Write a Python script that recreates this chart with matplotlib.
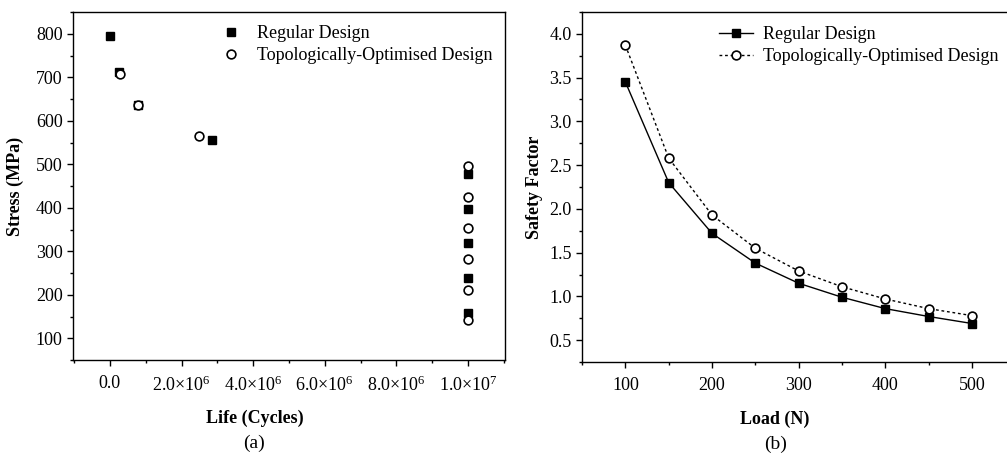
import matplotlib
matplotlib.use("Agg")
import matplotlib.pyplot as plt
from matplotlib.ticker import MultipleLocator

plt.rcParams['font.family'] = ['Liberation Serif', 'DejaVu Serif']
plt.rcParams['mathtext.fontset'] = 'custom'
plt.rcParams['mathtext.rm'] = 'Liberation Serif'
plt.rcParams['mathtext.it'] = 'Liberation Serif:italic'
plt.rcParams['mathtext.bf'] = 'Liberation Serif:bold'

# ---- panel (a): S-N data ----
reg_life = [0.0, 0.25e6, 0.78e6, 2.85e6, 1e7, 1e7, 1e7, 1e7, 1e7]
reg_stress = [795, 713, 636, 556, 478, 397, 318, 238, 158]
topo_life = [0.28e6, 0.78e6, 2.5e6, 1e7, 1e7, 1e7, 1e7, 1e7, 1e7]
topo_stress = [708, 637, 566, 495, 424, 354, 283, 212, 142]

life_ticks = [0, 2e6, 4e6, 6e6, 8e6, 1e7]
life_labels = ['0.0', '2.0×10$^{6}$', '4.0×10$^{6}$', '6.0×10$^{6}$',
               '8.0×10$^{6}$', '1.0×10$^{7}$']
stress_ticks = [100, 200, 300, 400, 500, 600, 700, 800]

# ---- panel (b): safety factor vs load ----
load = [100, 150, 200, 250, 300, 350, 400, 450, 500]
sf_regular = [3.45, 2.30, 1.72, 1.38, 1.15, 0.99, 0.86, 0.77, 0.69]
sf_topo = [3.87, 2.58, 1.93, 1.55, 1.29, 1.11, 0.97, 0.86, 0.78]

fig = plt.figure(figsize=(10.07, 4.59), dpi=100)
ax1 = fig.add_axes([0.0725, 0.2157, 0.429, 0.758])
ax2 = fig.add_axes([0.578, 0.2113, 0.426, 0.7626])

fs = 13

# (a)
ax1.plot(reg_life, reg_stress, 's', color='black', markersize=5.8, linestyle='none',
         label='Regular Design')
ax1.plot(topo_life, topo_stress, 'o', markerfacecolor='white', markeredgecolor='black',
         markeredgewidth=1.2, markersize=6.3, linestyle='none',
         label='Topologically-Optimised Design')
ax1.set_xlim(-1.03e6, 1.103e7)
ax1.set_ylim(50, 850)
ax1.set_xticks(life_ticks)
ax1.set_xticklabels(life_labels)
ax1.set_yticks(stress_ticks)
ax1.xaxis.set_minor_locator(MultipleLocator(1e6))
ax1.yaxis.set_minor_locator(MultipleLocator(50))
ax1.set_xlabel('Life (Cycles)', fontweight='bold', fontsize=fs)
ax1.set_ylabel('Stress (MPa)', fontweight='bold', fontsize=fs)
ax1.xaxis.set_label_coords(0.42, -0.143)
ax1.yaxis.set_label_coords(-0.114, 0.5)
ax1.legend(loc='upper left', bbox_to_anchor=(0.345, 0.963), frameon=False, fontsize=fs,
           handlelength=1.0, handletextpad=0.95, borderaxespad=0, borderpad=0,
           labelspacing=0.28)
ax1.text(0.42, -0.24, '(a)', transform=ax1.transAxes, ha='center', va='center',
         fontsize=fs + 1)

# (b)
ax2.plot(load, sf_regular, '-s', color='black', markersize=5.8, linewidth=1.0,
         label='Regular Design')
ax2.plot(load, sf_topo, linestyle=(0, (2, 2)), marker='o', color='black',
         markerfacecolor='white', markersize=6.3, markeredgewidth=1.2, linewidth=1.0,
         label='Topologically-Optimised Design')
ax2.set_xlim(50, 545)
ax2.set_ylim(0.25, 4.25)
ax2.set_xticks([100, 200, 300, 400, 500])
ax2.set_yticks([0.5, 1.0, 1.5, 2.0, 2.5, 3.0, 3.5, 4.0])
ax2.xaxis.set_minor_locator(MultipleLocator(50))
ax2.yaxis.set_minor_locator(MultipleLocator(0.25))
ax2.set_xlabel('Load (N)', fontweight='bold', fontsize=fs)
ax2.set_ylabel('Safety Factor', fontweight='bold', fontsize=fs)
ax2.xaxis.set_label_coords(0.45, -0.138)
ax2.yaxis.set_label_coords(-0.091, 0.5)
ax2.legend(loc='upper left', bbox_to_anchor=(0.319, 0.96), frameon=False, fontsize=fs,
           handlelength=1.9, handletextpad=0.55, borderaxespad=0, borderpad=0,
           labelspacing=0.3)
ax2.text(0.45, -0.235, '(b)', transform=ax2.transAxes, ha='center', va='center',
         fontsize=fs + 1)

for ax in (ax1, ax2):
    ax.tick_params(which='major', direction='out', length=4, width=1, labelsize=fs,
                   top=False, right=False)
    ax.tick_params(axis='x', which='major', pad=7)
    ax.tick_params(which='minor', direction='out', length=2, width=1, top=False, right=False)
    for s in ax.spines.values():
        s.set_linewidth(1.0)

fig.savefig('out.png', dpi=100)
